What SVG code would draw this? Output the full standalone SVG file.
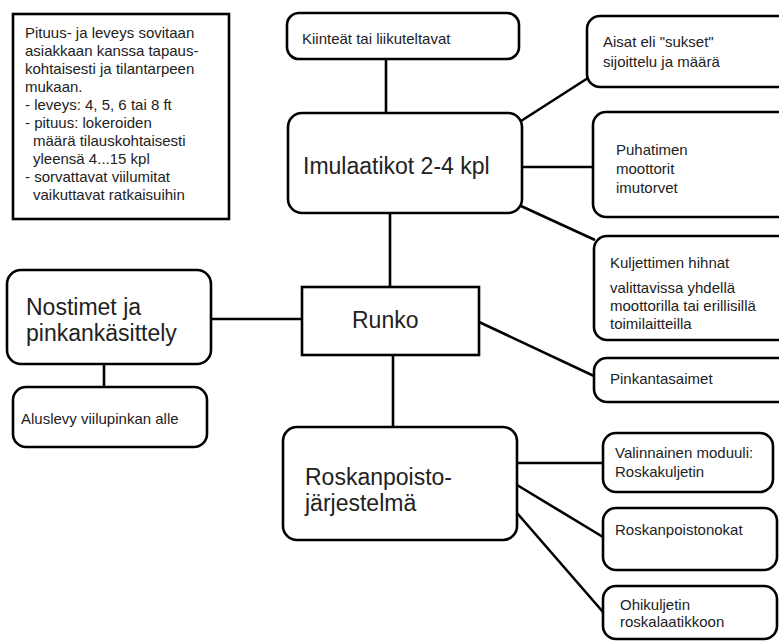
<svg xmlns="http://www.w3.org/2000/svg" width="779" height="642" viewBox="0 0 779 642">
<style>
.box{fill:#fff;stroke:#000;stroke-width:2.6}
.ln{stroke:#000;stroke-width:2.6;fill:none}
.s{font-family:"Liberation Sans",Arial,sans-serif;font-size:15px;fill:#222}
.b{font-family:"Liberation Sans",Arial,sans-serif;font-size:23px;fill:#222}
</style>
<rect width="779" height="642" fill="#fff"/>
<g id="connectors">
<line class="ln" x1="386" y1="59" x2="386" y2="113"/>
<line class="ln" x1="521" y1="121" x2="588" y2="78"/>
<line class="ln" x1="522" y1="167" x2="594" y2="167"/>
<line class="ln" x1="521" y1="206" x2="595" y2="240"/>
<line class="ln" x1="390" y1="213" x2="390" y2="287"/>
<line class="ln" x1="211" y1="319" x2="302" y2="319"/>
<line class="ln" x1="104" y1="364" x2="104" y2="387"/>
<line class="ln" x1="479" y1="322" x2="594" y2="376"/>
<line class="ln" x1="393" y1="355" x2="393" y2="427"/>
<line class="ln" x1="517" y1="463" x2="603" y2="463"/>
<line class="ln" x1="517" y1="485" x2="603" y2="537"/>
<line class="ln" x1="517" y1="513" x2="603" y2="612"/>
</g>
<g id="note">
<rect class="box" x="13" y="14" width="216" height="205"/>
<text class="s" x="25" y="38">Pituus- ja leveys sovitaan</text>
<text class="s" x="25" y="56">asiakkaan kanssa tapaus-</text>
<text class="s" x="25" y="74">kohtaisesti ja tilantarpeen</text>
<text class="s" x="25" y="92">mukaan.</text>
<text class="s" x="25" y="110">- leveys: 4, 5, 6 tai 8 ft</text>
<text class="s" x="25" y="128">- pituus: lokeroiden</text>
<text class="s" x="33" y="146">määrä tilauskohtaisesti</text>
<text class="s" x="33" y="164">yleensä 4...15 kpl</text>
<text class="s" x="25" y="182">- sorvattavat viilumitat</text>
<text class="s" x="33" y="200">vaikuttavat ratkaisuihin</text>
</g>
<g id="kiinteat">
<rect class="box" x="287" y="13" width="232" height="46" rx="12"/>
<text class="s" x="302" y="44">Kiinteät tai liikuteltavat</text>
</g>
<g id="imulaatikot">
<rect class="box" x="288" y="113" width="234" height="100" rx="14"/>
<text class="b" x="303" y="174">Imulaatikot 2-4 kpl</text>
</g>
<g id="aisat">
<rect class="box" x="587" y="16" width="210" height="71" rx="13"/>
<text class="s" x="603" y="47">Aisat eli "sukset"</text>
<text class="s" x="603" y="67">sijoittelu ja määrä</text>
</g>
<g id="puhatimen">
<rect class="box" x="593" y="112" width="204" height="105" rx="13"/>
<text class="s" x="616" y="155">Puhatimen</text>
<text class="s" x="616" y="174">moottorit</text>
<text class="s" x="616" y="193">imutorvet</text>
</g>
<g id="kuljettimen">
<rect class="box" x="594" y="236" width="203" height="104" rx="13"/>
<text class="s" x="610" y="268">Kuljettimen hihnat</text>
<text class="s" x="610" y="293">valittavissa yhdellä</text>
<text class="s" x="610" y="311">moottorilla tai erillisillä</text>
<text class="s" x="610" y="329">toimilaitteilla</text>
</g>
<g id="pinkantasaimet">
<rect class="box" x="594" y="358" width="203" height="44" rx="13"/>
<text class="s" x="610" y="384">Pinkantasaimet</text>
</g>
<g id="nostimet">
<rect class="box" x="7" y="270" width="204" height="94" rx="14"/>
<text class="b" x="26" y="315">Nostimet ja</text>
<text class="b" x="26" y="341">pinkankäsittely</text>
</g>
<g id="aluslevy">
<rect class="box" x="13" y="387" width="194" height="60" rx="13"/>
<text class="s" x="21" y="424">Aluslevy viilupinkan alle</text>
</g>
<g id="runko">
<rect class="box" x="302" y="287" width="177" height="68"/>
<text class="b" x="352" y="328">Runko</text>
</g>
<g id="roskanpoisto">
<rect class="box" x="283" y="427" width="234" height="113" rx="14"/>
<text class="b" x="305" y="485">Roskanpoisto-</text>
<text class="b" x="305" y="511">järjestelmä</text>
</g>
<g id="valinnainen">
<rect class="box" x="603" y="433" width="170" height="59" rx="13"/>
<text class="s" x="615" y="458">Valinnainen moduuli:</text>
<text class="s" x="615" y="477">Roskakuljetin</text>
</g>
<g id="roskanpoistonokat">
<rect class="box" x="603" y="508" width="174" height="62" rx="13"/>
<text class="s" x="615" y="535">Roskanpoistonokat</text>
</g>
<g id="ohikuljetin">
<rect class="box" x="603" y="586" width="174" height="53" rx="13"/>
<text class="s" x="620" y="610">Ohikuljetin</text>
<text class="s" x="620" y="627">roskalaatikkoon</text>
</g>
</svg>
